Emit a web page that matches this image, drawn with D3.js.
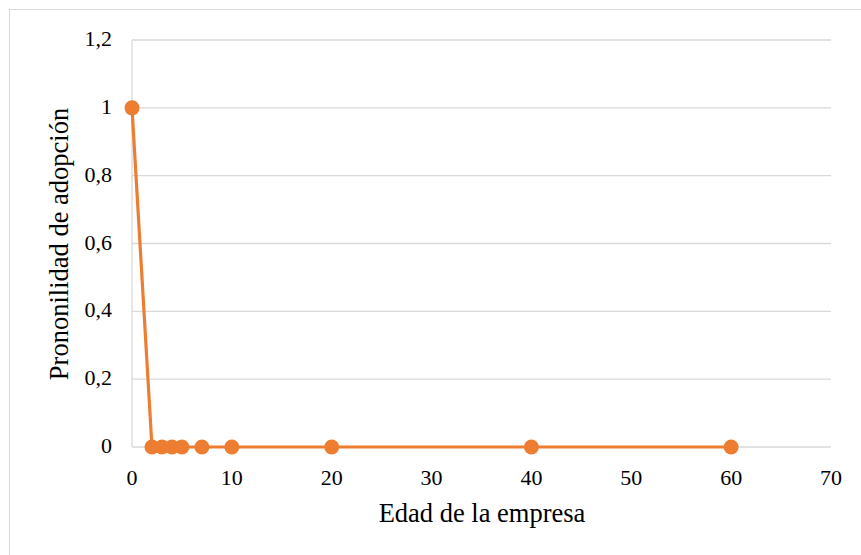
<!DOCTYPE html>
<html>
<head>
<meta charset="utf-8">
<script src="https://cdn.jsdelivr.net/npm/d3@7"></script>
<style>
  html, body { margin: 0; padding: 0; background: #fff; }
  svg { display: block; }
</style>
</head>
<body>
<svg id="chart" width="861" height="555"></svg>
<script>
// Company age vs adoption propensity
const ages = [0, 2, 3, 4, 5, 7, 10, 20, 40, 60];
const propensity = [1, 0, 0, 0, 0, 0, 0, 0, 0, 0];
const xTicks = [0, 10, 20, 30, 40, 50, 60, 70];
const yTicks = [0, 0.2, 0.4, 0.6, 0.8, 1, 1.2];
const xTitle = "Edad de la empresa";
const yTitle = "Prononilidad de adopción";

const FONT = "'Liberation Serif', 'Times New Roman', serif";
const svg = d3.select("#chart");
const m = { left: 132, right: 831, top: 40, bottom: 447 };
const color = "#ED7D31";
const gridColor = "#D9D9D9";

// outer frame
svg.append("rect")
  .attr("x", 9.5).attr("y", 9.5)
  .attr("width", 860).attr("height", 560)
  .attr("fill", "none").attr("stroke", gridColor).attr("stroke-width", 1);

const x = d3.scaleLinear().domain([0, 70]).range([m.left, m.right]);
const y = d3.scaleLinear().domain([0, 1.2]).range([m.bottom, m.top]);

const fmt = v => (Number.isInteger(v) ? String(v) : d3.format(".1f")(v).replace(".", ","));

// horizontal gridlines
svg.append("g").selectAll("line").data(yTicks).join("line")
  .attr("x1", m.left).attr("x2", m.right)
  .attr("y1", d => y(d)).attr("y2", d => y(d))
  .attr("stroke", gridColor).attr("stroke-width", 1.3);

// vertical left axis line
svg.append("line")
  .attr("x1", m.left).attr("x2", m.left)
  .attr("y1", m.top).attr("y2", m.bottom)
  .attr("stroke", gridColor).attr("stroke-width", 1.3);

// y tick labels
svg.append("g").selectAll("text").data(yTicks).join("text")
  .attr("x", m.left - 20).attr("y", d => y(d) + 6)
  .attr("text-anchor", "end")
  .style("font-family", FONT).style("font-size", "22px").style("fill", "#000")
  .text(fmt);

// x tick labels
svg.append("g").selectAll("text").data(xTicks).join("text")
  .attr("x", d => x(d)).attr("y", m.bottom + 38)
  .attr("text-anchor", "middle")
  .style("font-family", FONT).style("font-size", "22px").style("fill", "#000")
  .text(fmt);

// series
const data = ages.map((a, i) => ({ a, v: propensity[i] }));
svg.append("path")
  .datum(data)
  .attr("fill", "none")
  .attr("stroke", color)
  .attr("stroke-width", 3.2)
  .attr("stroke-linejoin", "round")
  .attr("d", d3.line().x(d => x(d.a)).y(d => y(d.v)));

svg.append("g").selectAll("circle").data(data).join("circle")
  .attr("cx", d => x(d.a)).attr("cy", d => y(d.v))
  .attr("r", 7.5).attr("fill", color);

// titles
svg.append("text")
  .attr("x", 482).attr("y", 522)
  .attr("text-anchor", "middle")
  .style("font-family", FONT).style("font-size", "26.5px").style("fill", "#000")
  .text(xTitle);

svg.append("text")
  .attr("transform", "translate(68,244) rotate(-90)")
  .attr("text-anchor", "middle")
  .style("font-family", FONT).style("font-size", "26.5px").style("fill", "#000")
  .text(yTitle);
</script>
</body>
</html>
